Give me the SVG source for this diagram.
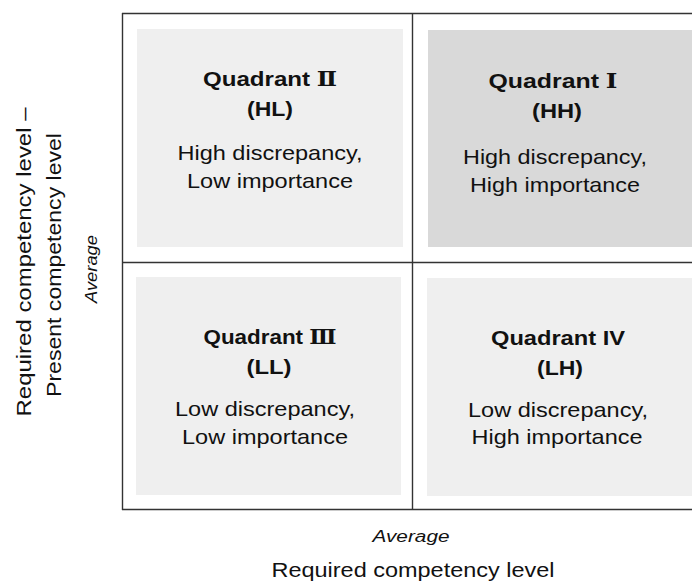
<svg xmlns="http://www.w3.org/2000/svg" width="692" height="584" viewBox="0 0 692 584">
<style>
.frame{stroke:#333;stroke-width:1.4;fill:none}
.light{fill:#efefef}
.dark{fill:#d9d9d9}
.t{font-family:"Liberation Sans",Arial,sans-serif;fill:#111;text-anchor:middle}
.b{font-weight:bold;font-size:20px}
.r{font-size:21px}
.it{font-style:italic;font-size:16px}
.num{font-family:"DejaVu Serif","Liberation Serif",serif;font-weight:bold}
</style>
<rect width="692" height="584" fill="#fff"/>
<g id="q2">
<rect class="light" x="137" y="29" width="266" height="218"/>
<text class="t b" x="270" y="86" textLength="134" lengthAdjust="spacingAndGlyphs">Quadrant <tspan class="num">Ⅱ</tspan></text>
<text class="t b" x="270" y="116" textLength="46" lengthAdjust="spacingAndGlyphs">(HL)</text>
<text class="t r" x="270" y="160" textLength="185" lengthAdjust="spacingAndGlyphs">High discrepancy,</text>
<text class="t r" x="270" y="188" textLength="166" lengthAdjust="spacingAndGlyphs">Low importance</text>
</g>
<g id="q1">
<rect class="dark" x="428" y="30" width="264" height="217"/>
<text class="t b" x="553" y="88" textLength="129" lengthAdjust="spacingAndGlyphs">Quadrant  <tspan class="num">Ⅰ</tspan></text>
<text class="t b" x="557" y="118" textLength="50" lengthAdjust="spacingAndGlyphs">(HH)</text>
<text class="t r" x="555" y="164" textLength="184" lengthAdjust="spacingAndGlyphs">High discrepancy,</text>
<text class="t r" x="555" y="192" textLength="170" lengthAdjust="spacingAndGlyphs">High importance</text>
</g>
<g id="q3">
<rect class="light" x="136" y="277" width="265" height="218"/>
<text class="t b" x="270" y="344" textLength="133" lengthAdjust="spacingAndGlyphs">Quadrant <tspan class="num">Ⅲ</tspan></text>
<text class="t b" x="269" y="374" textLength="45" lengthAdjust="spacingAndGlyphs">(LL)</text>
<text class="t r" x="265" y="416" textLength="180" lengthAdjust="spacingAndGlyphs">Low discrepancy,</text>
<text class="t r" x="265" y="444" textLength="166" lengthAdjust="spacingAndGlyphs">Low importance</text>
</g>
<g id="q4">
<rect class="light" x="427" y="278" width="265" height="218"/>
<text class="t b" x="558" y="345" textLength="134" lengthAdjust="spacingAndGlyphs">Quadrant IV</text>
<text class="t b" x="560" y="375" textLength="46" lengthAdjust="spacingAndGlyphs">(LH)</text>
<text class="t r" x="558" y="417" textLength="180" lengthAdjust="spacingAndGlyphs">Low discrepancy,</text>
<text class="t r" x="557" y="444" textLength="171" lengthAdjust="spacingAndGlyphs">High importance</text>
</g>
<g id="connectors">
<line class="frame" x1="122.5" y1="13" x2="122.5" y2="510"/>
<line class="frame" x1="122" y1="13.5" x2="692" y2="13.5"/>
<line class="frame" x1="122" y1="509.5" x2="692" y2="509.5"/>
<line class="frame" x1="412.5" y1="13" x2="412.5" y2="510"/>
<line class="frame" x1="122" y1="262.5" x2="692" y2="262.5"/>
</g>
<g id="labels">
<text class="t r" transform="translate(31,262) rotate(-90)" textLength="309" lengthAdjust="spacingAndGlyphs">Required competency level –</text>
<text class="t r" transform="translate(61,265) rotate(-90)" textLength="264" lengthAdjust="spacingAndGlyphs">Present competency level</text>
<text class="t it" transform="translate(97,269) rotate(-90)" textLength="68" lengthAdjust="spacingAndGlyphs">Average</text>
<text class="t it" x="411" y="542" textLength="77" lengthAdjust="spacingAndGlyphs">Average</text>
<text class="t r" x="413" y="577" textLength="283" lengthAdjust="spacingAndGlyphs">Required competency level</text>
</g>
</svg>
